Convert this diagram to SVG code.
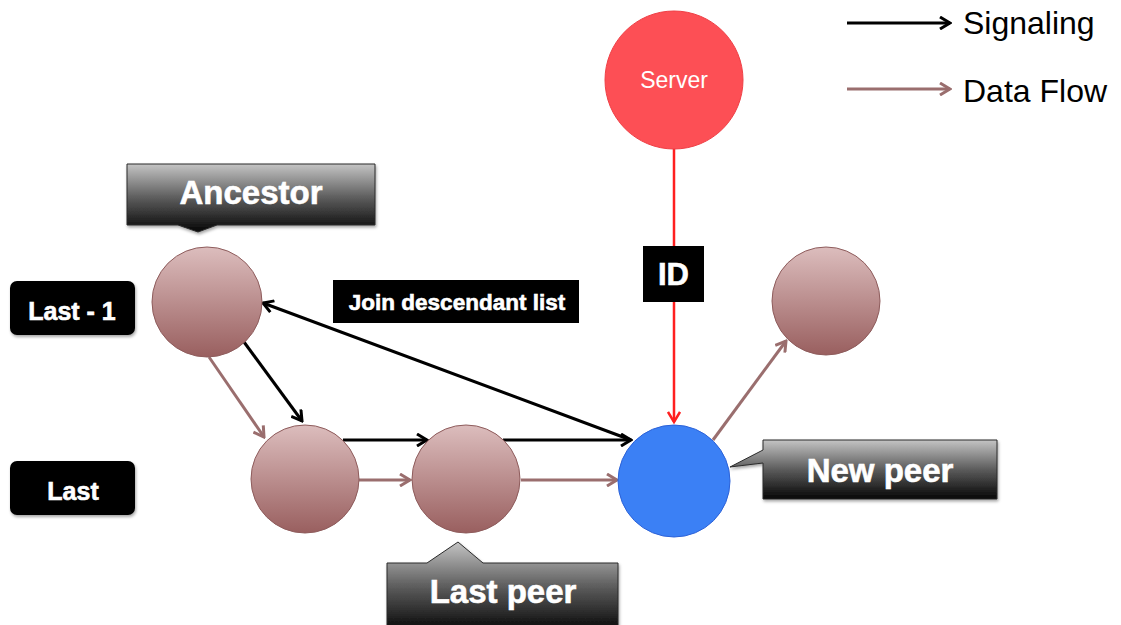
<svg xmlns="http://www.w3.org/2000/svg" width="1121" height="625" viewBox="0 0 1121 625">
  <defs>
    <style>
      .lbl { font-family: "Liberation Sans", Arial, sans-serif; font-weight: bold; fill: #ffffff; text-anchor: middle; stroke: #ffffff; stroke-width: 0.6; }
      .legend { font-family: "Liberation Sans", Arial, sans-serif; font-size: 32px; fill: #000000; }
      .sig { stroke: #000000; stroke-width: 3; fill: none; }
      .flow { stroke: #9a6e6e; stroke-width: 3; fill: none; }
      .idline { stroke: #ff2020; stroke-width: 2.5; fill: none; }
      .peer { fill: url(#peerGrad); stroke: #8e5c5c; stroke-width: 1; }
      .callout { fill: url(#calloutGrad); stroke: #2a2a2a; stroke-width: 1; filter: url(#shadow); }
      .tag { fill: #000000; filter: url(#shadow); }
    </style>
    <linearGradient id="peerGrad" x1="0" y1="0" x2="0" y2="1">
      <stop offset="0" stop-color="#dcbdbd"/>
      <stop offset="1" stop-color="#995f5f"/>
    </linearGradient>
    <linearGradient id="calloutGrad" x1="0" y1="0" x2="0" y2="1">
      <stop offset="0" stop-color="#c4c4c4"/>
      <stop offset="0.5" stop-color="#5c5c5c"/>
      <stop offset="1" stop-color="#050505"/>
    </linearGradient>
    <filter id="shadow" x="-10%" y="-10%" width="125%" height="140%">
      <feDropShadow dx="1" dy="2" stdDeviation="1.5" flood-color="#000000" flood-opacity="0.35"/>
    </filter>
    <marker id="arrBlack" viewBox="0 0 14 14" refX="12" refY="7" markerWidth="14" markerHeight="14" markerUnits="userSpaceOnUse" orient="auto">
      <path d="M2,1 L12,7 L2,13" fill="none" stroke="#000000" stroke-width="3"/>
    </marker>
    <marker id="arrBrown" viewBox="0 0 14 14" refX="12" refY="7" markerWidth="14" markerHeight="14" markerUnits="userSpaceOnUse" orient="auto">
      <path d="M2,1 L12,7 L2,13" fill="none" stroke="#9a6e6e" stroke-width="3"/>
    </marker>
    <marker id="arrRed" viewBox="0 0 14 14" refX="12" refY="7" markerWidth="14" markerHeight="14" markerUnits="userSpaceOnUse" orient="auto">
      <path d="M2,1 L12,7 L2,13" fill="none" stroke="#ff2020" stroke-width="2.5"/>
    </marker>
  </defs>

  <rect width="1121" height="625" fill="#ffffff"/>

  <!-- connectors -->
  <g id="connectors">
    <line class="idline" x1="674" y1="148" x2="674" y2="422" marker-end="url(#arrRed)"/>
    <line class="sig" x1="244" y1="342" x2="302" y2="421" marker-end="url(#arrBlack)"/>
    <line class="flow" x1="209" y1="357" x2="264" y2="437" marker-end="url(#arrBrown)"/>
    <line class="sig" x1="343" y1="440" x2="427" y2="440" marker-end="url(#arrBlack)"/>
    <line class="flow" x1="359" y1="480" x2="410" y2="480" marker-end="url(#arrBrown)"/>
    <line class="sig" x1="503" y1="440" x2="631" y2="440" marker-end="url(#arrBlack)"/>
    <line class="flow" x1="521" y1="480" x2="617" y2="480" marker-end="url(#arrBrown)"/>
    <line class="sig" x1="631" y1="440" x2="263" y2="303" marker-end="url(#arrBlack)"/>
    <line class="flow" x1="713" y1="440" x2="786" y2="341" marker-end="url(#arrBrown)"/>
  </g>

  <!-- legend -->
  <g id="legend">
    <line class="sig" x1="847" y1="23" x2="950" y2="23" marker-end="url(#arrBlack)"/>
    <text class="legend" x="963" y="34">Signaling</text>
    <line class="flow" x1="847" y1="89" x2="950" y2="89" marker-end="url(#arrBrown)"/>
    <text class="legend" x="963" y="102">Data Flow</text>
  </g>

  <!-- server -->
  <g id="server">
    <circle cx="674" cy="80" r="69" fill="#fd4f55" stroke="#ef3f45" stroke-width="1"/>
    <text x="674" y="88" font-family="Liberation Sans, Arial, sans-serif" font-size="23" fill="#ffffff" text-anchor="middle">Server</text>
  </g>

  <!-- ID tag on the server link -->
  <g id="id-tag">
    <rect x="643" y="246" width="61" height="56" fill="#000000"/>
    <text class="lbl" x="673.5" y="285" font-size="31">ID</text>
  </g>

  <!-- peers -->
  <g id="ancestor-peer">
    <circle class="peer" cx="207" cy="302" r="55"/>
  </g>
  <g id="last-peer-a">
    <circle class="peer" cx="305" cy="479" r="54"/>
  </g>
  <g id="last-peer-b">
    <circle class="peer" cx="466" cy="479" r="54"/>
  </g>
  <g id="child-peer">
    <circle class="peer" cx="826" cy="301" r="54"/>
  </g>
  <g id="new-peer">
    <circle cx="674" cy="481" r="56" fill="#3b80f5" stroke="#2c62d8" stroke-width="1"/>
  </g>

  <!-- row labels -->
  <g id="label-last-1">
    <rect class="tag" x="10" y="281" width="125" height="54" rx="7"/>
    <text class="lbl" x="72" y="320" font-size="25">Last - 1</text>
  </g>
  <g id="label-last">
    <rect class="tag" x="10" y="461" width="125" height="54" rx="7"/>
    <text class="lbl" x="73" y="500" font-size="25">Last</text>
  </g>

  <!-- join label -->
  <g id="label-join">
    <rect x="333" y="280" width="246" height="43" fill="#000000"/>
    <text class="lbl" x="457" y="310" font-size="22.5">Join descendant list</text>
  </g>

  <!-- callouts -->
  <g id="callout-ancestor">
    <path class="callout" d="M127,164 H375 V225 H217 L198,232 L178,225 H127 Z"/>
    <text class="lbl" x="251" y="204" font-size="33">Ancestor</text>
  </g>
  <g id="callout-last-peer">
    <path class="callout" d="M387,563 H427 L458,542 L483,563 H618 V632 H387 Z"/>
    <text class="lbl" x="503" y="603" font-size="33">Last peer</text>
  </g>
  <g id="callout-new-peer">
    <path class="callout" d="M763,440 H997 V499 H763 V463 L730,467 L763,450 Z"/>
    <text class="lbl" x="880" y="482" font-size="33">New peer</text>
  </g>
</svg>
